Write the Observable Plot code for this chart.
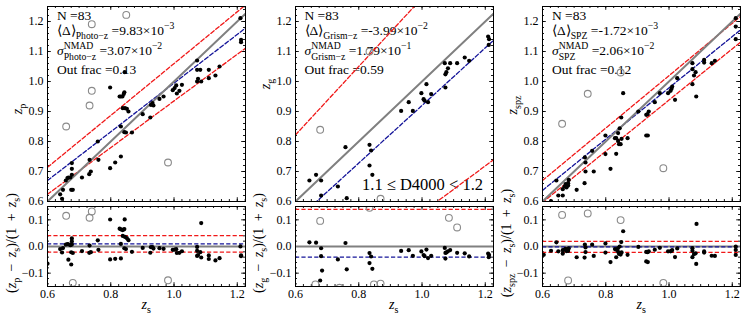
<!DOCTYPE html>
<html><head><meta charset="utf-8">
<script src="https://cdn.jsdelivr.net/npm/d3@7"></script>
<script src="https://cdn.jsdelivr.net/npm/@observablehq/plot@0.6"></script>
<style>
body{margin:0;background:#fff;}
#fig{position:relative;width:748px;height:323px;overflow:hidden;font-family:"Liberation Serif",serif;color:#000;background:#fff;}
#fig svg{position:absolute;overflow:visible;}
.t{position:absolute;white-space:nowrap;}
.sb{font-size:72%;position:relative;top:0.42em;line-height:0;}
.sp{font-size:72%;position:relative;top:-0.62em;line-height:0;}
.stk{display:inline-flex;flex-direction:column;font-size:72%;line-height:1.05;position:relative;top:-0.6em;vertical-align:baseline;}
</style></head><body><div id="fig"></div>
<script>
// ---------- data (z_s, z_est) ----------
const photoBlack = [[0.640,0.624],[0.646,0.609],[0.649,0.639],[0.658,0.670],[0.663,0.678],[0.666,0.680],[0.672,0.680],[0.677,0.728],[0.677,0.709],[0.677,0.689],[0.675,0.639],[0.680,0.639],[0.709,0.680],[0.732,0.691],[0.737,0.700],[0.733,0.739],[0.759,0.800],[0.761,0.739],[0.798,0.980],[0.798,0.711],[0.814,0.730],[0.832,0.750],[0.832,0.850],[0.828,0.950],[0.832,0.950],[0.837,0.950],[0.841,0.958],[0.843,0.964],[0.838,0.911],[0.845,0.911],[0.851,0.909],[0.856,0.900],[0.843,0.831],[0.848,0.830],[0.867,0.830],[0.901,0.891],[0.925,0.880],[0.927,0.922],[0.932,0.928],[0.935,0.920],[0.954,0.942],[0.967,0.950],[0.996,0.971],[1.002,0.978],[1.007,0.987],[1.009,0.960],[1.017,0.969],[1.025,0.989],[1.073,1.070],[1.073,1.039],[1.073,1.000],[1.076,1.009],[1.083,1.039],[1.086,1.000],[1.110,1.039],[1.110,1.011],[1.131,1.020],[1.144,1.050],[1.210,1.211],[1.212,1.139],[1.212,1.131],[0.844,1.031],[0.600,0.497],[0.666,0.584],[0.675,0.562],[1.086,1.269]];
const photoGray = [[0.659,0.850],[0.733,0.920],[0.740,0.969],[0.740,1.191],[0.849,1.222],[0.981,0.730],[0.680,0.451]];

const grismBlack = [[0.644,0.670],[0.665,0.689],[0.681,0.670],[0.681,0.620],[0.734,0.650],[0.758,0.781],[0.762,0.611],[0.834,0.789],[0.834,0.720],[0.839,0.770],[0.843,0.689],[0.934,0.902],[0.958,0.931],[0.971,0.902],[0.998,0.961],[1.005,0.941],[1.008,0.936],[1.014,0.991],[1.019,0.931],[1.029,0.958],[1.072,1.061],[1.074,1.024],[1.077,1.031],[1.074,0.980],[1.082,1.044],[1.089,1.061],[1.111,1.061],[1.135,1.080],[1.149,1.069],[1.209,1.150],[1.212,1.141],[1.211,1.122],[0.684,0.532],[0.678,0.464]];
const grismGray = [[0.678,0.839],[0.869,0.609],[0.834,1.100],[0.663,0.427],[0.739,0.470],[0.848,0.585],[1.085,1.309],[1.111,1.262]];

const spzBlack = [[0.627,0.601],[0.644,0.670],[0.650,0.620],[0.664,0.620],[0.664,0.641],[0.670,0.650],[0.673,0.658],[0.676,0.647],[0.681,0.653],[0.681,0.661],[0.683,0.672],[0.708,0.639],[0.733,0.661],[0.734,0.747],[0.736,0.730],[0.736,0.700],[0.762,0.700],[0.757,0.769],[0.799,0.820],[0.799,0.758],[0.815,0.709],[0.829,0.811],[0.833,0.811],[0.833,0.759],[0.839,0.828],[0.839,0.802],[0.842,0.791],[0.847,0.791],[0.844,0.844],[0.849,0.880],[0.855,0.961],[0.850,0.809],[0.869,0.811],[0.903,0.900],[0.928,0.820],[0.933,0.820],[0.928,0.889],[0.932,0.891],[0.936,0.900],[0.955,0.931],[0.971,0.961],[0.997,0.961],[1.005,0.969],[1.008,0.976],[1.010,0.983],[1.019,0.939],[1.026,1.011],[1.074,1.061],[1.074,1.041],[1.074,0.991],[1.079,1.020],[1.084,1.031],[1.086,0.950],[1.111,1.063],[1.111,1.072],[1.135,1.061],[1.145,1.069],[1.211,1.211],[1.211,1.183],[1.211,1.141],[0.604,0.554],[1.087,1.264]];
const spzGray = [[0.662,0.859],[0.743,0.959],[0.982,0.711],[0.847,1.030],[0.852,1.261],[0.681,0.467]];

// fitted / offset lines (endpoints)
const photoBlue = [[0.6,0.670],[1.226,1.178]];
const photoRedUp = [[0.6,0.714],[1.226,1.255]];
const photoRedLo = [[0.6,0.624],[1.226,1.111]];
const grismBlue = [[0.6,0.536],[1.226,1.137]];
const grismRedUp = [[0.6,0.822],[1.226,1.536]];
const grismRedLo = [[0.6,0.250],[1.226,0.739]];
const spzBlue = [[0.6,0.637],[1.226,1.172]];
const spzRedUp = [[0.6,0.670],[1.226,1.217]];
const spzRedLo = [[0.6,0.597],[1.226,1.131]];
const oneToOne = [0.6, 1.25];

// residual panel levels: mean, mean +/- sigma_NMAD
const photoMean = [0.0098], photoBand = [0.0405, -0.0209];
const grismMean = [-0.0399], grismBand = [0.139, -0.219];
const spzMean = [-0.0017], spzBand = [0.0189, -0.0223];

// ticks
const xMajor = [0.6, 0.8, 1.0, 1.2];
const xMinor = d3.range(0.625, 1.226, 0.025);
const yTopMajor = [0.6, 0.7, 0.8, 0.9, 1.0, 1.1, 1.2];
const yTopMinor = d3.range(0.62, 1.25, 0.02);
const yBotMajor = [-0.1, 0.0, 0.1];
const yBotMinor = d3.range(-0.14, 0.15, 0.02);

// ---------- layout ----------
const fig = document.getElementById("fig");
const W = 198, HT = 195, HB = 80;
const frameLeft = [47, 294.5, 542];
const topY = 6, botY = 206;
const xDomain = [0.6, 1.226];
const RED = "#f01818", BLUE = "#141499", GRAY = "#8a8a8a";

function inTicks(xs, ys, len, H) {
  const o = {stroke: "#000", strokeWidth: 0.9};
  return [
    Plot.ruleX(xs, {x: d => d, insetTop: H - len, ...o}),
    Plot.ruleX(xs, {x: d => d, insetBottom: H - len, ...o}),
    Plot.ruleY(ys, {y: d => d, insetRight: W - len, ...o}),
    Plot.ruleY(ys, {y: d => d, insetLeft: W - len, ...o})
  ];
}
const dash = {strokeDasharray: "4.2,2.2", strokeWidth: 1.3, clip: true};
const style = {fontFamily: "Liberation Serif, serif", fontSize: "12px", background: "transparent", color: "#000"};

function topPlot(i, black, gray, blue, redU, redL) {
  const mL = 44, mR = 4, mT = 4, mB = 4;
  const svg = Plot.plot({
    width: W + mL + mR, height: HT + mT + mB,
    marginLeft: mL, marginRight: mR, marginTop: mT, marginBottom: mB,
    style,
    x: {domain: xDomain, axis: null},
    y: {domain: [0.6, 1.25], ticks: yTopMajor, tickSize: 0, tickPadding: 4, tickFormat: ".1f", label: null},
    marks: [
      ...inTicks(xMinor, yTopMinor, 2, HT),
      ...inTicks(xMajor, yTopMajor, 3.8, HT),
      Plot.line(redU, {x: d => d[0], y: d => d[1], stroke: RED, ...dash}),
      Plot.line(redL, {x: d => d[0], y: d => d[1], stroke: RED, ...dash}),
      Plot.line(blue, {x: d => d[0], y: d => d[1], stroke: BLUE, ...dash}),
      Plot.line(oneToOne, {x: d => d, y: d => d, stroke: "#808080", strokeWidth: 2, clip: true}),
      Plot.dot(gray, {x: d => d[0], y: d => d[1], r: 3.4, stroke: GRAY, strokeWidth: 1.1, fill: "none", clip: true}),
      Plot.dot(black, {x: d => d[0], y: d => d[1], r: 2.1, fill: "#000", stroke: "none", clip: true}),
      Plot.frame({stroke: "#000", strokeWidth: 1})
    ]
  });
  svg.style.left = (frameLeft[i] - mL) + "px";
  svg.style.top = (topY - mT) + "px";
  fig.appendChild(svg);
}

function botPlot(i, black, gray, mean, band) {
  const mL = 44, mR = 4, mT = 4, mB = 22;
  const res = d => (d[1] - d[0]) / (1 + d[0]);
  const svg = Plot.plot({
    width: W + mL + mR, height: HB + mT + mB,
    marginLeft: mL, marginRight: mR, marginTop: mT, marginBottom: mB,
    style,
    x: {domain: xDomain, ticks: xMajor, tickSize: 0, tickPadding: 3, tickFormat: ".1f", label: null},
    y: {domain: [-0.15, 0.15], ticks: yBotMajor, tickSize: 0, tickPadding: 4, tickFormat: ".1f", label: null},
    marks: [
      ...inTicks(xMinor, yBotMinor, 2, HB),
      ...inTicks(xMajor, yBotMajor, 3.8, HB),
      Plot.ruleY([0], {y: d => d, stroke: "#808080", strokeWidth: 2}),
      Plot.ruleY(band, {y: d => d, stroke: RED, ...dash}),
      Plot.ruleY(mean, {y: d => d, stroke: BLUE, ...dash}),
      Plot.dot(gray, {x: d => d[0], y: res, r: 3.4, stroke: GRAY, strokeWidth: 1.1, fill: "none", clip: true}),
      Plot.dot(black, {x: d => d[0], y: res, r: 2.1, fill: "#000", stroke: "none", clip: true}),
      Plot.frame({stroke: "#000", strokeWidth: 1})
    ]
  });
  svg.style.left = (frameLeft[i] - mL) + "px";
  svg.style.top = (botY - mT) + "px";
  fig.appendChild(svg);
}

// ---------- text ----------
function addText(html, left, baseline, size) {
  const d = document.createElement("div");
  d.className = "t";
  d.style.fontSize = size + "px";
  d.style.lineHeight = size + "px";
  d.style.left = left + "px";
  d.style.top = (baseline - 0.8375 * size) + "px";
  d.innerHTML = html;
  fig.appendChild(d);
  return d;
}
function addCentered(html, cx, baseline, size) {
  const d = addText(html, 0, baseline, size);
  d.style.left = (cx - d.offsetWidth / 2) + "px";
}
function addRot(html, cx, cy, size) {
  const d = document.createElement("div");
  d.className = "t";
  d.style.fontSize = size + "px";
  d.style.lineHeight = size + "px";
  d.innerHTML = html;
  fig.appendChild(d);
  const w = d.offsetWidth, h = d.offsetHeight;
  d.style.left = (cx - w / 2) + "px";
  d.style.top = (cy - h / 2) + "px";
  d.style.transform = "rotate(-90deg)";
}

const sub = s => `<span class="sb">${s}</span>`;
const sup = s => `<span class="sp">${s}</span>`;
const stk = (a, b) => `<span class="stk"><span>${a}</span><span>${b}</span></span>`;
const z = `<i>z</i>`;

const statN = ["83", "83", "83"];
const statTag = ["Photo−z", "Grism−z", "SPZ"];
const statMean = ["9.83×10" + sup("−3"), "-3.99×10" + sup("−2"), "-1.72×10" + sup("−3")];
const statSig = ["3.07×10" + sup("−2"), "1.79×10" + sup("−1"), "2.06×10" + sup("−2")];
const statOut = ["0.13", "0.59", "0.12"];
const yTopLabel = [z + sub("p"), z + sub("g"), z + sub("spz")];
const yTopLabelY = [109, 84, 105];
const yBotLabel = ["p", "g", "spz"].map(s => `(${z}${sub(s)}&thinsp; − &thinsp;${z}${sub("s")})/(1&thinsp; + &thinsp;${z}${sub("s")})`);

const FS = 13.5;
for (let i = 0; i < 3; i++) {
  const L = frameLeft[i] + 10;
  addText("N =" + statN[i], L, 20.7, FS);
  addText("⟨Δ⟩" + sub(statTag[i]) + " =" + statMean[i], L, 35.7, FS);
  addText("<i>σ</i>" + stk("NMAD", statTag[i]) + " =" + statSig[i], L, 55.5, FS);
  addText("Out frac =" + statOut[i], L, 74, FS);
  addRot(yTopLabel[i], frameLeft[i] - 28.5, yTopLabelY[i], 14);
  addRot(yBotLabel[i], frameLeft[i] - 35.5, 243, 14);
  addCentered(z + sub("s"), frameLeft[i] + W / 2, 309.5, 14);
}
addText("1.1 ≤ D4000 &lt; 1.2", 362, 190.7, 16.5);

topPlot(0, photoBlack, photoGray, photoBlue, photoRedUp, photoRedLo);
topPlot(1, grismBlack, grismGray, grismBlue, grismRedUp, grismRedLo);
topPlot(2, spzBlack, spzGray, spzBlue, spzRedUp, spzRedLo);
botPlot(0, photoBlack, photoGray, photoMean, photoBand);
botPlot(1, grismBlack, grismGray, grismMean, grismBand);
botPlot(2, spzBlack, spzGray, spzMean, spzBand);
</script></body></html>
